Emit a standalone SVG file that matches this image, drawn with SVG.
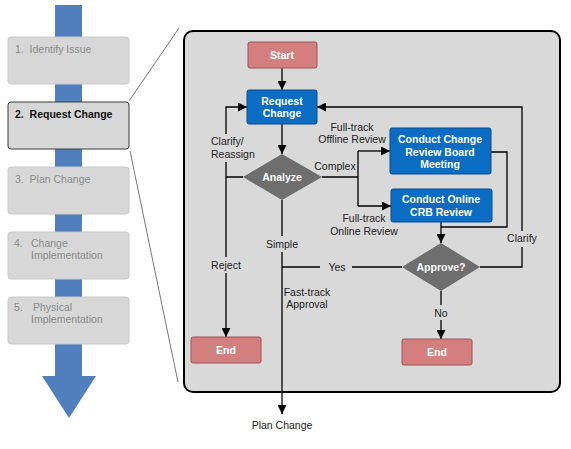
<svg xmlns="http://www.w3.org/2000/svg" width="571" height="449" viewBox="0 0 571 449">
<style>
.step{fill:#d7d7d7;stroke:#c9c9c9;stroke-width:1}
.stepsel{fill:#d7d7d7;stroke:#3a3a3a;stroke-width:1}
.st{font-family:"Liberation Sans",Arial,sans-serif;font-size:10.5px;fill:#8a8a8a}
.stb{font-family:"Liberation Sans",Arial,sans-serif;font-size:10.5px;font-weight:bold;fill:#111}
.term{fill:#d47f7e;stroke:#9c5656;stroke-width:1}
.proc{fill:#0a6cc2;stroke:#0a4d8c;stroke-width:1}
.dec{fill:#6e6e6e}
.nt{font-family:"Liberation Sans",Arial,sans-serif;font-size:10.5px;font-weight:bold;fill:#fff;text-anchor:middle}
.lb{font-family:"Liberation Sans",Arial,sans-serif;font-size:10.5px;fill:#222}
.c{text-anchor:middle}
.ln{fill:none;stroke:#000;stroke-width:1.3}
.bg{fill:#d9d9d9}
.zoom{fill:none;stroke:#555;stroke-width:0.8}
</style>
<defs>
<marker id="ah" markerUnits="userSpaceOnUse" markerWidth="9" markerHeight="9" viewBox="0 0 10 10" refX="10" refY="5" orient="auto">
<path d="M0,0 L10,5 L0,10 z" fill="#000"/>
</marker>
</defs>
<g id="progress-arrow">
<rect x="55" y="5" width="27" height="372" fill="#4f80bd"/>
<polygon points="42,376 96,376 69,418" fill="#4f80bd"/>
</g>
<g id="step1"><rect class="step" x="8" y="37" width="121" height="47" rx="3"/><text class="st" x="15" y="53" xml:space="preserve">1.  Identify Issue</text></g>
<g id="step2"><rect class="stepsel" x="8" y="102" width="121" height="47" rx="3"/><text class="stb" x="15" y="118" xml:space="preserve">2.  Request Change</text></g>
<g id="step3"><rect class="step" x="8" y="167" width="121" height="47" rx="3"/><text class="st" x="15" y="183" xml:space="preserve">3.  Plan Change</text></g>
<g id="step4"><rect class="step" x="8" y="232" width="121" height="47" rx="3"/><text class="st" x="14" y="247">4.</text><text class="st" x="31" y="247">Change</text><text class="st" x="31" y="259">Implementation</text></g>
<g id="step5"><rect class="step" x="8" y="297" width="121" height="47" rx="3"/><text class="st" x="14" y="311">5.</text><text class="st" x="33" y="311">Physical</text><text class="st" x="31" y="323">Implementation</text></g>
<g id="zoom-lines">
<line class="zoom" x1="129" y1="101" x2="179" y2="28"/>
<line class="zoom" x1="130" y1="151" x2="178" y2="382"/>
</g>
<g id="panel"><rect x="184" y="31" width="376" height="361" rx="9" fill="#d9d9d9" stroke="#000" stroke-width="2"/></g>
<g id="connectors">
<line class="ln" x1="282" y1="68" x2="282" y2="90" marker-end="url(#ah)"/>
<line class="ln" x1="282" y1="124" x2="282" y2="154" marker-end="url(#ah)"/>
<polyline class="ln" points="243,177 226,177 226,107 247,107" marker-end="url(#ah)"/>
<line class="ln" x1="226" y1="177" x2="226" y2="337" marker-end="url(#ah)"/>
<line class="ln" x1="282" y1="200" x2="282" y2="414" marker-end="url(#ah)"/>
<line class="ln" x1="322" y1="177" x2="358" y2="177"/>
<polyline class="ln" points="358,151 358,206"/>
<line class="ln" x1="358" y1="151" x2="390" y2="151" marker-end="url(#ah)"/>
<line class="ln" x1="358" y1="206" x2="391" y2="206" marker-end="url(#ah)"/>
<polyline class="ln" points="491,152 507,152 507,227 441,227"/>
<line class="ln" x1="441" y1="222" x2="441" y2="243" marker-end="url(#ah)"/>
<polyline class="ln" points="480,267 522,267 522,107 317,107" marker-end="url(#ah)"/>
<line class="ln" x1="402" y1="267" x2="282" y2="267"/>
<line class="ln" x1="441" y1="291" x2="441" y2="339" marker-end="url(#ah)"/>
</g>
<g id="labels">
<rect class="bg" x="209" y="134" width="48" height="28"/>
<text class="lb" x="211" y="145">Clarify/</text>
<text class="lb" x="211" y="158">Reassign</text>
<rect class="bg" x="208" y="257" width="36" height="16"/>
<text class="lb c" x="226" y="269">Reject</text>
<rect class="bg" x="264" y="236" width="36" height="16"/>
<text class="lb c" x="282" y="248">Simple</text>
<rect class="bg" x="320" y="260" width="32" height="14"/>
<text class="lb c" x="337" y="271">Yes</text>
<text class="lb c" x="307" y="296">Fast-track</text>
<text class="lb c" x="307" y="308">Approval</text>
<text class="lb c" x="335" y="170">Complex</text>
<text class="lb c" x="352" y="131">Full-track</text>
<text class="lb c" x="352" y="143">Offline Review</text>
<text class="lb c" x="364" y="222">Full-track</text>
<text class="lb c" x="364" y="235">Online Review</text>
<rect class="bg" x="504" y="231" width="36" height="16"/>
<text class="lb c" x="522" y="242">Clarify</text>
<rect class="bg" x="432" y="305" width="18" height="15"/>
<text class="lb c" x="441" y="317">No</text>
<text class="lb c" x="282" y="429">Plan Change</text>
</g>
<g id="start"><rect class="term" x="248" y="42" width="69" height="26" rx="2"/><text class="nt" x="282" y="59">Start</text></g>
<g id="request-change"><rect class="proc" x="247" y="90" width="70" height="34" rx="2"/><text class="nt" x="282" y="105">Request</text><text class="nt" x="282" y="117">Change</text></g>
<g id="analyze"><polygon class="dec" points="282,154 322,177 282,200 243,177"/><text class="nt" x="282" y="181">Analyze</text></g>
<g id="ccrb"><rect class="proc" x="390" y="128" width="101" height="46" rx="2"/><text class="nt" x="440" y="143">Conduct Change</text><text class="nt" x="440" y="156">Review Board</text><text class="nt" x="440" y="168">Meeting</text></g>
<g id="crb-online"><rect class="proc" x="391" y="189" width="101" height="33" rx="2"/><text class="nt" x="441" y="203">Conduct Online</text><text class="nt" x="441" y="216">CRB Review</text></g>
<g id="approve"><polygon class="dec" points="441,243 480,267 441,291 402,267"/><text class="nt" x="441" y="271">Approve?</text></g>
<g id="end-left"><rect class="term" x="191" y="337" width="70" height="26" rx="2"/><text class="nt" x="226" y="354">End</text></g>
<g id="end-right"><rect class="term" x="402" y="339" width="70" height="26" rx="2"/><text class="nt" x="437" y="356">End</text></g>
</svg>
